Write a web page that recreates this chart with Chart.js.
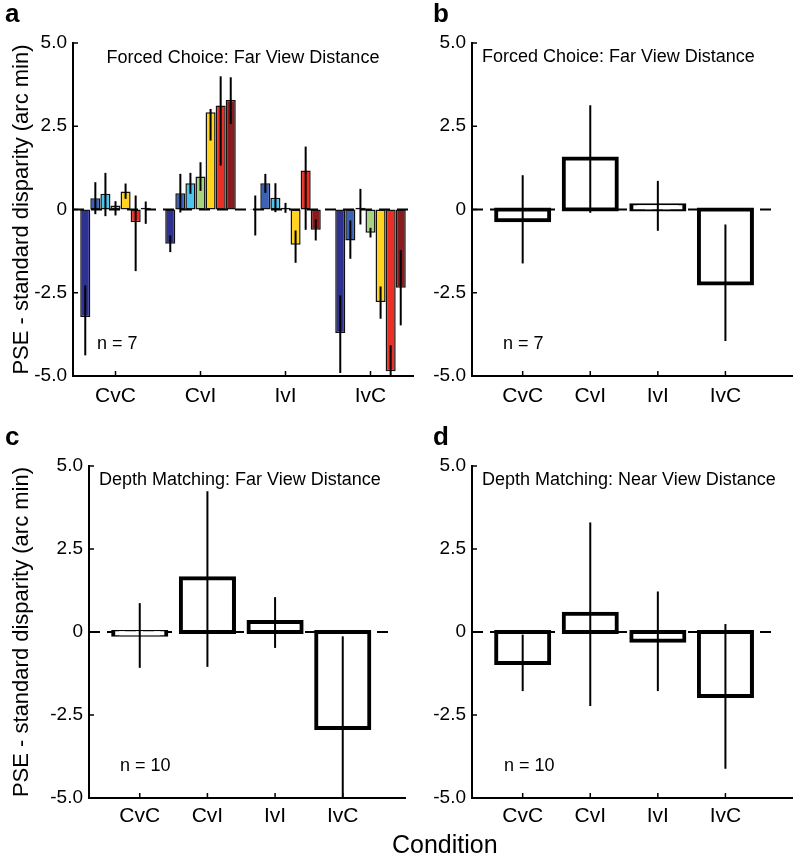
<!DOCTYPE html>
<html>
<head>
<meta charset="utf-8">
<script src="https://cdn.jsdelivr.net/npm/chart.js@4.4.0/dist/chart.umd.min.js"></script>
<style>
  body { margin: 0; background: #fff; }
  #fig { position: relative; width: 793px; height: 853px; overflow: hidden; font-family: "Liberation Sans", Arial, sans-serif; color: #000; }
  .panel { position: absolute; }
  .letter { position: absolute; font-size: 26px; line-height: 26px; font-weight: bold; }
  #xlabel { position: absolute; left: 392px; top: 832px; font-size: 25px; line-height: 25px; }
</style>
</head>
<body>
<div id="fig">
  <canvas class="panel" id="chartA" width="430" height="412" style="left:0;top:0"></canvas>
  <canvas class="panel" id="chartB" width="393" height="412" style="left:400px;top:0"></canvas>
  <canvas class="panel" id="chartC" width="430" height="441" style="left:0;top:412px"></canvas>
  <canvas class="panel" id="chartD" width="393" height="441" style="left:400px;top:412px"></canvas>
  <div class="letter" style="left:5px;top:0">a</div>
  <div class="letter" style="left:433px;top:0">b</div>
  <div class="letter" style="left:5px;top:423px">c</div>
  <div class="letter" style="left:433px;top:423px">d</div>
  <div id="xlabel">Condition</div>
</div>
<script>
// categories and axis ticks
const conditions = ['CvC', 'CvI', 'IvI', 'IvC'];
const yTickValues = [-5, -2.5, 0, 2.5, 5];
const yTickLabels = ['-5.0', '-2.5', '0', '2.5', '5.0'];

// Panel a: individual observers (7), mean and error bar ends per condition
const observerColors = ['#2e3192', '#3b62b4', '#4cc4ee', '#a8d383', '#ffd31f', '#ec2f25', '#8a1b1d'];
const obsMeans = [
  [-3.23, -1.03, 0.02, -3.71],
  [0.34, 0.49, 0.79, -0.93],
  [0.47, 0.79, 0.35, 0.05],
  [0.12, 0.99, 0.05, -0.70],
  [0.54, 2.92, -1.06, -2.78],
  [-0.38, 3.12, 1.17, -4.86],
  [0.05, 3.29, -0.61, -2.35]
];
const obsLo = [
  [-4.38, -1.28, -0.78, -4.91],
  [-0.14, -0.09, 0.50, -1.48],
  [-0.20, 0.47, -0.08, -0.45],
  [-0.18, 0.56, -0.10, -0.84],
  [0.32, 2.07, -1.60, -3.28],
  [-1.85, 1.32, -0.61, -5.60],
  [-0.43, 2.57, -0.93, -3.48]
];
const obsHi = [
  [-2.28, -0.78, 0.42, -2.58],
  [0.82, 1.07, 1.07, -0.33],
  [1.10, 1.10, 0.79, 0.62],
  [0.25, 1.42, 0.20, -0.55],
  [0.78, 3.02, -0.63, -2.31],
  [0.42, 4.00, 1.89, -4.08],
  [0.24, 3.97, -0.30, -1.22]
];

// Panel b: forced choice, far view distance (group mean)
const fcFarMean = [-0.32, 1.53, 0.13, -2.22];
const fcFarLo = [-1.62, -0.10, -0.64, -3.95];
const fcFarHi = [1.03, 3.13, 0.86, -0.45];

// Panel c: depth matching, far view distance
const dmFarMean = [-0.08, 1.62, 0.30, -2.89];
const dmFarLo = [-1.08, -1.05, -0.48, -5.70];
const dmFarHi = [0.87, 4.24, 1.05, -0.13];

// Panel d: depth matching, near view distance
const dmNearMean = [-0.93, 0.55, -0.26, -1.93];
const dmNearLo = [-1.78, -2.23, -1.78, -4.12];
const dmNearHi = [-0.08, 3.30, 1.22, 0.24];

const FONT = '"Liberation Sans", Arial, Helvetica, sans-serif';
Chart.defaults.font.family = FONT;
Chart.defaults.color = '#000';

const toPoints = arr => arr.map((v, i) => ({ x: i + 1, y: v }));

// dashed zero line behind the bars
const zeroLine = {
  id: 'zeroLine',
  beforeDatasetsDraw(chart, args, opts) {
    const { ctx, scales: { x, y } } = chart;
    const y0 = y.getPixelForValue(0);
    ctx.save();
    ctx.strokeStyle = '#000';
    ctx.lineWidth = 2;
    ctx.setLineDash([11, 7]);
    ctx.beginPath();
    ctx.moveTo(x.getPixelForValue(opts.from), y0);
    ctx.lineTo(x.getPixelForValue(opts.to), y0);
    ctx.stroke();
    ctx.restore();
  }
};

// vertical error lines through the bars
const errorBars = {
  id: 'errorBars',
  afterDatasetsDraw(chart) {
    const { ctx, chartArea, scales: { y } } = chart;
    ctx.save();
    ctx.beginPath();
    ctx.rect(chartArea.left, chartArea.top, chartArea.width, chartArea.height);
    ctx.clip();
    ctx.strokeStyle = '#000';
    ctx.lineWidth = 2;
    chart.data.datasets.forEach((ds, i) => {
      chart.getDatasetMeta(i).data.forEach((bar, j) => {
        ctx.beginPath();
        ctx.moveTo(bar.x, y.getPixelForValue(ds.errLo[j]));
        ctx.lineTo(bar.x, y.getPixelForValue(ds.errHi[j]));
        ctx.stroke();
      });
    });
    ctx.restore();
  }
};

// small inward tick marks
const innerTicks = {
  id: 'innerTicks',
  afterDraw(chart) {
    const { ctx, chartArea, scales: { x, y } } = chart;
    ctx.save();
    ctx.strokeStyle = '#000';
    ctx.lineWidth = 1.5;
    ctx.beginPath();
    y.ticks.forEach(t => {
      const py = y.getPixelForValue(t.value);
      ctx.moveTo(chartArea.left, py);
      ctx.lineTo(chartArea.left + 5, py);
    });
    x.ticks.forEach(t => {
      const px = x.getPixelForValue(t.value);
      ctx.moveTo(px, chartArea.bottom);
      ctx.lineTo(px, chartArea.bottom - 5);
    });
    ctx.stroke();
    ctx.restore();
  }
};

// panel title and n label inside the plot
const panelText = {
  id: 'panelText',
  afterDraw(chart, args, opts) {
    const { ctx, chartArea } = chart;
    ctx.save();
    ctx.fillStyle = '#000';
    ctx.font = '18px ' + FONT;
    ctx.textBaseline = 'middle';
    if (opts.centerTitle) {
      ctx.textAlign = 'center';
      ctx.fillText(opts.title, (chartArea.left + chartArea.right) / 2, chartArea.top + 15);
    } else {
      ctx.textAlign = 'left';
      ctx.fillText(opts.title, chartArea.left + 10, chartArea.top + 14);
    }
    ctx.textAlign = 'left';
    ctx.fillText(opts.n, chartArea.left + opts.nDx, chartArea.bottom - 32);
    ctx.restore();
  }
};

function makeChart(id, datasets, o) {
  return new Chart(document.getElementById(id), {
    type: 'bar',
    data: { datasets },
    plugins: [zeroLine, errorBars, innerTicks, panelText],
    options: {
      responsive: false,
      animation: false,
      events: [],
      categoryPercentage: o.catPct,
      barPercentage: 1.0,
      layout: { padding: { left: 0, top: o.top, right: o.right, bottom: 0 } },
      plugins: {
        legend: { display: false },
        tooltip: { enabled: false },
        zeroLine: { from: o.zeroFrom, to: o.zeroTo },
        panelText: { title: o.title, n: o.n, centerTitle: o.centerTitle, nDx: o.nDx }
      },
      scales: {
        x: {
          type: 'linear',
          offset: false,
          min: o.xMin,
          max: o.xMax,
          afterBuildTicks: s => { s.ticks = conditions.map((c, i) => ({ value: i + 1 })); },
          afterFit: s => { s.height = o.xHeight; },
          grid: { display: false, drawTicks: false },
          border: { display: true, color: '#000', width: 2 },
          ticks: {
            font: { size: 21 },
            padding: o.xPad,
            maxRotation: 0,
            callback: v => conditions[v - 1]
          }
        },
        y: {
          min: -5,
          max: 5,
          afterBuildTicks: s => { s.ticks = yTickValues.map(v => ({ value: v })); },
          afterFit: s => { s.width = o.yWidth; },
          grid: { display: false, drawTicks: false },
          border: { display: true, color: '#000', width: 2 },
          ticks: {
            font: { size: 19 },
            padding: 6,
            callback: v => yTickLabels[yTickValues.indexOf(v)]
          },
          title: {
            display: o.yTitle,
            text: 'PSE - standard disparity (arc min)',
            font: { size: 22 },
            padding: { top: 9, bottom: 0 }
          }
        }
      }
    }
  });
}

// open bars whose thick outline is centred on the bar edges
function summaryDataset(means, lo, hi) {
  return [{
    data: toPoints(means),
    errLo: lo,
    errHi: hi,
    backgroundColor: '#fff',
    borderColor: '#000',
    borderWidth: 4,
    inflateAmount: 2,
    borderSkipped: false
  }];
}

const observerSets = obsMeans.map((m, k) => ({
  data: toPoints(m),
  errLo: obsLo[k],
  errHi: obsHi[k],
  backgroundColor: observerColors[k],
  borderColor: '#111',
  borderWidth: 1.5,
  borderSkipped: false
}));

makeChart('chartA', observerSets, {
  top: 43, right: 17, yWidth: 73, xHeight: 36, xPad: 8,
  xMin: 0.5, xMax: 4.5, zeroFrom: 0.5, zeroTo: 4.5, catPct: 0.83,
  title: 'Forced Choice: Far View Distance', centerTitle: true, n: 'n = 7', nDx: 24, yTitle: true
});
makeChart('chartB', summaryDataset(fcFarMean, fcFarLo, fcFarHi), {
  top: 43, right: 0, yWidth: 72, xHeight: 36, xPad: 8,
  xMin: 0.25, xMax: 5.0, zeroFrom: 0.25, zeroTo: 4.75, catPct: 0.785,
  title: 'Forced Choice: Far View Distance', centerTitle: false, n: 'n = 7', nDx: 31, yTitle: false
});
makeChart('chartC', summaryDataset(dmFarMean, dmFarLo, dmFarHi), {
  top: 54, right: 25, yWidth: 89, xHeight: 55, xPad: 6,
  xMin: 0.25, xMax: 4.92, zeroFrom: 0.25, zeroTo: 4.75, catPct: 0.785,
  title: 'Depth Matching: Far View Distance', centerTitle: false, n: 'n = 10', nDx: 31, yTitle: true
});
makeChart('chartD', summaryDataset(dmNearMean, dmNearLo, dmNearHi), {
  top: 54, right: 0, yWidth: 72, xHeight: 55, xPad: 6,
  xMin: 0.25, xMax: 5.0, zeroFrom: 0.25, zeroTo: 4.75, catPct: 0.785,
  title: 'Depth Matching: Near View Distance', centerTitle: false, n: 'n = 10', nDx: 32, yTitle: false
});
</script>
</body>
</html>
